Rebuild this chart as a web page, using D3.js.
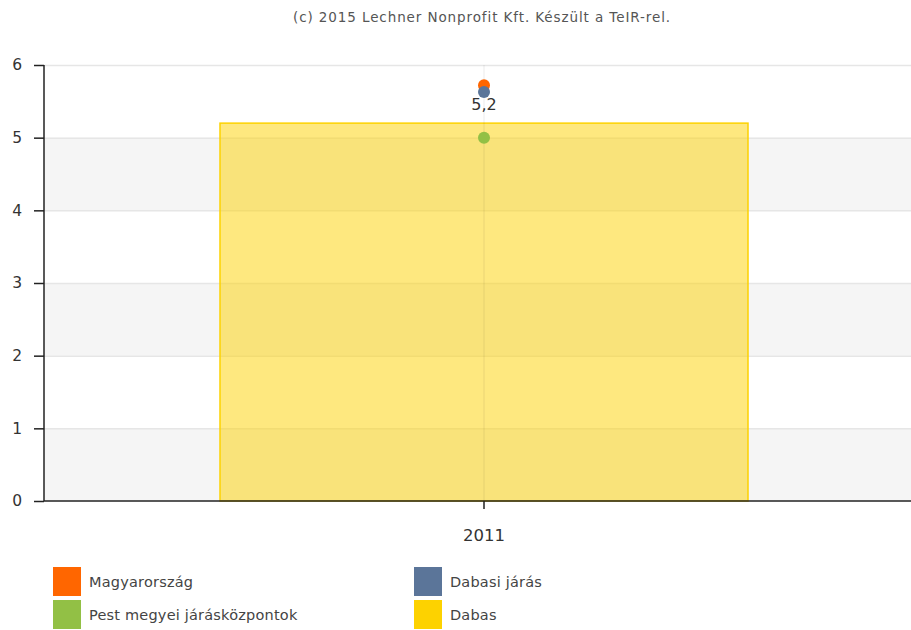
<!DOCTYPE html>
<html><head><meta charset="utf-8">
<script src="https://cdn.jsdelivr.net/npm/d3@7"></script>
<style>body{margin:0;background:#fff}svg{display:block;font-family:"DejaVu Sans",Verdana,sans-serif}</style>
</head><body><svg id="c" width="911" height="630"></svg>
<script>
const categories = ["2011"];
const barSeriesName = "Dabas";
const barValues = [5.2];
const pointSeriesNames = ["Magyarország", "Dabasi járás", "Pest megyei járásközpontok"];
const pointValues = [[5.72], [5.63], [5.0]];
const yTicks = [0, 1, 2, 3, 4, 5, 6];
const legendItems = ["Magyarország", "Dabasi járás", "Pest megyei járásközpontok", "Dabas"];
const colors = {"Magyarország": "#ff6600", "Dabasi járás": "#5b7599", "Pest megyei járásközpontok": "#92c045", "Dabas": "#fdd200"};
const title = "(c) 2015 Lechner Nonprofit Kft. Készült a TeIR-rel.";

(function () {
const svg = d3.select("#c");
const mLeft = 44, mRight = 924, mTop = 65, mBottom = 501;
const x = d3.scaleBand().domain(categories).range([mLeft, mRight]).paddingInner(0).paddingOuter(1/3);
const y = d3.scaleLinear().domain([0, 6]).range([mBottom, mTop]);

for (let i = 0; i < yTicks.length - 1; i++) {
  if (i % 2 === 0) {
    svg.append("rect").attr("x", mLeft).attr("width", 911 - mLeft)
      .attr("y", y(yTicks[i + 1])).attr("height", y(yTicks[i]) - y(yTicks[i + 1]))
      .attr("fill", "#f5f5f5");
  }
}
svg.append("g").selectAll("line").data(yTicks.slice(1)).join("line")
  .attr("x1", mLeft).attr("x2", 911).attr("y1", d => y(d) + 0.5).attr("y2", d => y(d) + 0.5)
  .attr("stroke", "#e6e6e6").attr("stroke-width", 1.5);

svg.selectAll("rect.bar").data(barValues).join("rect").attr("class", "bar")
  .attr("x", (d, i) => x(categories[i])).attr("width", x.bandwidth())
  .attr("y", d => y(d)).attr("height", d => mBottom - y(d))
  .attr("fill", colors[barSeriesName]).attr("fill-opacity", 0.5)
  .attr("stroke", colors[barSeriesName]).attr("stroke-width", 1.5);

svg.append("g").selectAll("line").data(categories).join("line")
  .attr("x1", d => x(d) + x.bandwidth() / 2).attr("x2", d => x(d) + x.bandwidth() / 2)
  .attr("y1", mTop).attr("y2", mBottom).attr("stroke", "#000").attr("stroke-opacity", 0.08);

svg.selectAll("text.bl").data(barValues).join("text").attr("class", "bl")
  .attr("x", (d, i) => x(categories[i]) + x.bandwidth() / 2).attr("y", d => y(d) - 13)
  .attr("text-anchor", "middle").attr("font-size", 16).attr("fill", "#333")
  .text(d => String(d).replace(".", ","));

pointSeriesNames.forEach((name, si) => {
  svg.append("g").selectAll("circle").data(pointValues[si]).join("circle")
    .attr("cx", (d, i) => x(categories[i]) + x.bandwidth() / 2).attr("cy", d => y(d))
    .attr("r", 6).attr("fill", colors[name]);
});

const yAxis = d3.axisLeft(y).tickValues(yTicks).tickSize(10).tickPadding(12).tickFormat(d3.format("d"));
const gy = svg.append("g").attr("transform", `translate(${mLeft},0)`).call(yAxis);
gy.select(".domain").attr("stroke", "#222").attr("stroke-width", 1.5).attr("d", `M0,${mTop}V${mBottom}`);
gy.selectAll(".tick line").attr("stroke", "#222").attr("stroke-width", 1.5);
gy.selectAll(".tick text").attr("font-size", 15.5).attr("fill", "#333").attr("font-family", "DejaVu Sans");

const xAxis = d3.axisBottom(x).tickSize(8).tickPadding(20);
const gx = svg.append("g").attr("transform", `translate(0,${mBottom})`).call(xAxis);
gx.select(".domain").attr("stroke", "#222").attr("stroke-width", 1.5).attr("d", `M${mLeft},0H911`);
gx.selectAll(".tick line").attr("stroke", "#222").attr("stroke-width", 1.5);
gx.selectAll(".tick text").attr("font-size", 16.5).attr("fill", "#333").attr("font-family", "DejaVu Sans");

svg.append("text").attr("x", 482).attr("y", 22).attr("text-anchor", "middle")
  .attr("font-size", 13.5).attr("letter-spacing", 0.9).attr("fill", "#555").text(title);

const lg = svg.append("g");
legendItems.forEach((name, i) => {
  const col = i % 2, row = Math.floor(i / 2);
  const lx = col === 0 ? 53 : 414, ly = 567 + row * 33;
  lg.append("rect").attr("x", lx).attr("y", ly).attr("width", 28).attr("height", 29).attr("fill", colors[name]);
  lg.append("text").attr("x", lx + 36).attr("y", ly + 20).attr("font-size", 14.5).attr("letter-spacing", 0.2)
    .attr("fill", "#444").text(name);
});
})();
</script></body></html>
